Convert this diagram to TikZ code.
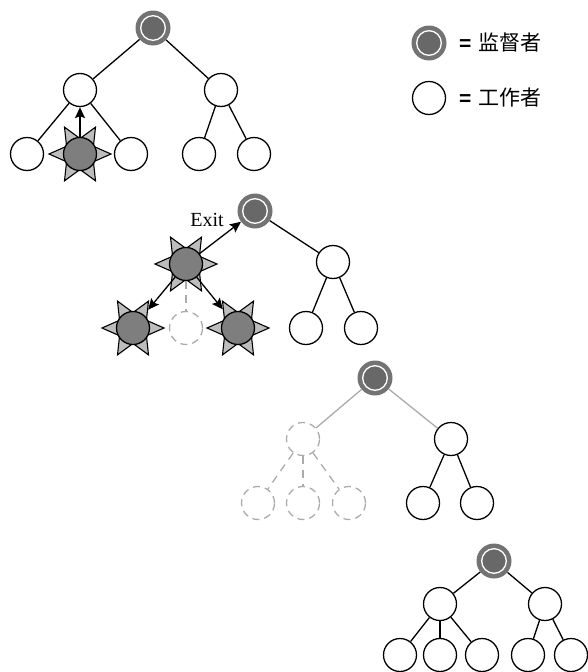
\documentclass[tikz,border=0pt]{standalone}
\usepackage{fontspec}
\setmainfont{Liberation Serif}
\newfontfamily\cjk{Noto Sans CJK SC}
\newfontfamily\eqfont{Liberation Sans}
\usetikzlibrary{shapes.geometric,arrows.meta}
\definecolor{supring}{HTML}{737373}
\definecolor{supcore}{HTML}{686868}
\definecolor{busy}{HTML}{7E7E7E}
\definecolor{burst}{HTML}{BDBDBD}
\definecolor{ghostc}{HTML}{ABABAB}
\tikzset{
  worker/.style={circle,draw=black,fill=white,line width=1.3pt,minimum size=33pt,inner sep=0pt},
  boss/.style={circle,fill=supring,draw=none,minimum size=35pt,inner sep=0pt,
    path picture={\draw[white,line width=1.3pt,fill=supcore]
      (path picture bounding box.center) circle (12.3pt);}},
  active/.style={circle,draw=black,fill=busy,line width=1.3pt,minimum size=33pt,inner sep=0pt},
  burststar/.style={star,star points=6,star point ratio=2.0,shape border rotate=90,
    minimum size=62pt,inner sep=0pt,draw=black,fill=burst,line width=1.1pt},
  ghost/.style={circle,draw=ghostc,dash pattern=on 7pt off 5pt,line width=1.3pt,minimum size=33pt,inner sep=0pt},
  link/.style={draw=black,line width=1.3pt},
  faint/.style={draw=ghostc,line width=1.3pt},
  faintdash/.style={draw=ghostc,line width=1.3pt,dash pattern=on 8pt off 6pt},
  msg/.style={draw=black,line width=1.3pt,-{Stealth[length=11pt,width=10pt,inset=2pt]}},
  legendtxt/.style={anchor=west,inner sep=0pt,font=\fontsize{21pt}{21pt}\selectfont},
  tag/.style={inner sep=0pt,font=\fontsize{20pt}{20pt}\selectfont}
}
\begin{document}
\begin{tikzpicture}[x=1pt,y=-1pt]
\useasboundingbox (0,0) rectangle (588,672);

% ---------- legend ----------
\node[boss] (lb) at (429,43) {};
\node[legendtxt] (lbt) at (459,43) {{\eqfont\textbf{=}}\hspace{7pt}{\cjk 监督者}};
\node[worker] (lw) at (429,98) {};
\node[legendtxt] (lwt) at (459,98) {{\eqfont\textbf{=}}\hspace{7pt}{\cjk 工作者}};

% ---------- stage 1: a worker fails and reports upward ----------
\node[boss] (a0) at (153,28) {};
\node[worker] (a1) at (80,90) {};
\node[worker] (a2) at (221,90) {};
\node[worker] (a11) at (27,154) {};
\node[burststar] (a12s) at (80,154) {};
\node[active] (a12) at (80,154) {};
\node[worker] (a13) at (131,154) {};
\node[worker] (a21) at (199,154) {};
\node[worker] (a22) at (254,154) {};
\draw[link] (a0) -- (a1);
\draw[link] (a0) -- (a2);
\draw[link] (a1) -- (a11);
\draw[link] (a1) -- (a13);
\draw[link] (a2) -- (a21);
\draw[link] (a2) -- (a22);
\draw[msg] (a12) -- (a1);

% ---------- stage 2: the failure spreads, exit goes to the supervisor ----------
\node[boss] (b0) at (255,211) {};
\node[burststar] (b1s) at (186,264) {};
\node[active] (b1) at (186,264) {};
\node[worker] (b2) at (333,262) {};
\node[burststar] (b11s) at (133,328) {};
\node[active] (b11) at (133,328) {};
\node[ghost] (b12) at (186,328) {};
\node[burststar] (b13s) at (238,328) {};
\node[active] (b13) at (238,328) {};
\node[worker] (b21) at (306,328) {};
\node[worker] (b22) at (361,328) {};
\draw[link] (b0) -- (b2);
\draw[link] (b2) -- (b21);
\draw[link] (b2) -- (b22);
\draw[faintdash] (b1) -- (b12);
\draw[msg] (b1) -- (b0);
\node[tag] (exit) at (207,220) {Exit};
\draw[msg] (b1) -- (b11s);
\draw[msg] (b1) -- (b13s);

% ---------- stage 3: the failed branch is gone ----------
\node[boss] (c0) at (375,378) {};
\node[ghost] (c1) at (303,439) {};
\node[worker] (c2) at (451,439) {};
\node[ghost] (c11) at (258,503) {};
\node[ghost] (c12) at (303,503) {};
\node[ghost] (c13) at (349,503) {};
\node[worker] (c21) at (423,503) {};
\node[worker] (c22) at (477,503) {};
\draw[faint] (c0) -- (c1);
\draw[faint] (c0) -- (c2);
\draw[faintdash] (c1) -- (c11);
\draw[faintdash] (c1) -- (c12);
\draw[faintdash] (c1) -- (c13);
\draw[link] (c2) -- (c21);
\draw[link] (c2) -- (c22);

% ---------- stage 4: the branch is restarted ----------
\node[boss] (d0) at (494,561) {};
\node[worker] (d1) at (440,604) {};
\node[worker] (d2) at (545,604) {};
\node[worker] (d11) at (400,655) {};
\node[worker] (d12) at (440,655) {};
\node[worker] (d13) at (482,655) {};
\node[worker] (d21) at (528,655) {};
\node[worker] (d22) at (571,655) {};
\draw[link] (d0) -- (d1);
\draw[link] (d0) -- (d2);
\draw[link] (d1) -- (d11);
\draw[link] (d1) -- (d12);
\draw[link] (d1) -- (d13);
\draw[link] (d2) -- (d21);
\draw[link] (d2) -- (d22);
\end{tikzpicture}
\end{document}
